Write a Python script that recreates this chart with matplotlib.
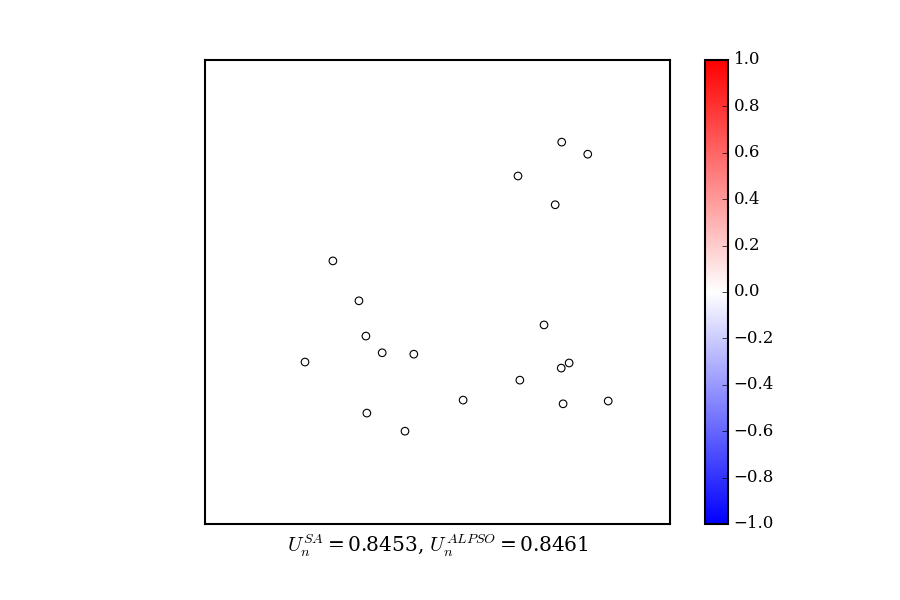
import numpy as np
import matplotlib
matplotlib.use('Agg')
import matplotlib.pyplot as plt

plt.style.use('classic')
plt.rcParams['font.family'] = 'serif'
plt.rcParams['font.serif'] = ['DejaVu Serif']
plt.rcParams['mathtext.fontset'] = 'custom'
plt.rcParams['mathtext.rm'] = 'DejaVu Serif'
plt.rcParams['mathtext.it'] = 'cmmi10'
plt.rcParams['axes.linewidth'] = 1.5

# point positions (unit square)
x = [0.767, 0.823, 0.673, 0.753, 0.275, 0.331, 0.729, 0.346, 0.381, 0.449,
     0.215, 0.783, 0.766, 0.677, 0.555, 0.770, 0.867, 0.348, 0.430]
y = [0.823, 0.797, 0.750, 0.688, 0.567, 0.481, 0.429, 0.405, 0.369, 0.366,
     0.349, 0.347, 0.336, 0.310, 0.267, 0.259, 0.265, 0.239, 0.200]
vals = np.zeros(len(x))

fig = plt.figure(figsize=(9, 6), dpi=100)
ax = fig.add_axes([0.2278, 0.1267, 0.5167, 0.7733])
cax = fig.add_axes([0.7833, 0.1267, 0.0256, 0.7733])

sc = ax.scatter(x, y, c=vals, cmap='bwr', vmin=-1, vmax=1, s=30,
                edgecolors='black', linewidths=0.8)
ax.set_xlim(0, 1)
ax.set_ylim(0, 1)
ax.set_xticks([])
ax.set_yticks([])
ax.set_xlabel(r'$U_n^{SA}=0.8453$, $U_n^{ALPSO}=0.8461$', fontsize=14.5,
              labelpad=6)

cb = fig.colorbar(sc, cax=cax, ticks=np.linspace(-1, 1, 11))
cb.ax.tick_params(labelsize=12)
cb.outline.set_linewidth(1.5)

fig.savefig('out.png', dpi=100)
